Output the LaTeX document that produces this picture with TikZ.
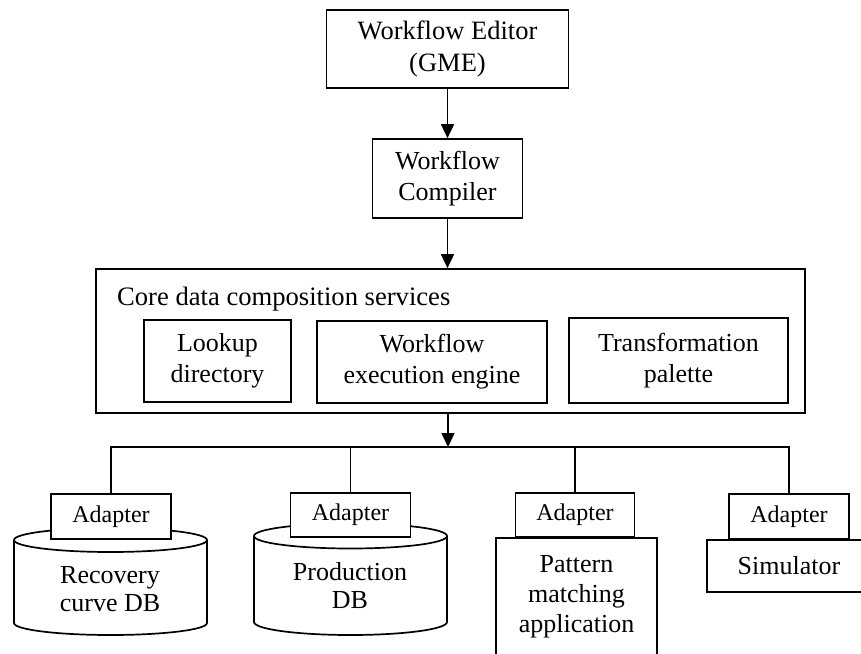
\documentclass[tikz,border=0pt]{standalone}
\usepackage{fontspec}
\setmainfont{Liberation Serif}
\usetikzlibrary{arrows.meta}
\begin{document}
\begin{tikzpicture}[x=1pt,y=-1pt,
  box/.style={draw,line width=1.7pt,fill=white,align=center,inner sep=0pt,
    font=\fontsize{26pt}{31pt}\selectfont},
  adapter/.style={box,minimum width=120pt,minimum height=45pt,
    font=\fontsize{24pt}{27pt}\selectfont},
  lbl/.style={align=center,inner sep=0pt,font=\fontsize{26pt}{28pt}\selectfont},
  conn/.style={line width=1.7pt},
  arr/.style={conn,-{Triangle[length=14pt,width=13pt]}}
]
\useasboundingbox (0,0) rectangle (861,653);
\clip (0,0) rectangle (861,653);

% tool chain on top
\node[box,minimum width=242pt,minimum height=78pt,
      font=\fontsize{26.5pt}{32pt}\selectfont] (editor) at (447.5,49) {Workflow Editor\\(GME)};
\node[box,minimum width=150pt,minimum height=79pt] (compiler) at (447.5,178.5) {Workflow\\Compiler};

% core services container
\node[box,minimum width=709pt,minimum height=144pt] (core) at (450.5,341) {};
\node[lbl,anchor=base west,font=\fontsize{26.6pt}{28pt}\selectfont] (coretitle) at (117,305) {Core data composition services};
\node[box,minimum width=147pt,minimum height=82pt] (lookup) at (217.5,361) {Lookup\\directory};
\node[box,minimum width=230pt,minimum height=82pt] (engine) at (432,362) {Workflow\\execution engine};
\node[box,minimum width=219pt,minimum height=85pt] (palette) at (678.5,360.5) {Transformation\\palette};

\draw[arr] (editor.south) -- (compiler.north);
\draw[arr] (compiler.south) -- (compiler.south |- core.north);

% data sources: two databases
\draw[conn,fill=white] (14,540) -- (14,623)
  arc[start angle=180,end angle=0,x radius=96.5,y radius=12] -- (207,540);
\draw[conn,fill=white] (110.5,540) ellipse[x radius=96.5,y radius=12];
\node[lbl] (recdb) at (110,589) {Recovery\\curve DB};

\draw[conn,fill=white] (254,536) -- (254,622)
  arc[start angle=180,end angle=0,x radius=96.5,y radius=13] -- (447,536);
\draw[conn,fill=white] (350.5,536) ellipse[x radius=96.5,y radius=12.5];
\node[lbl] (proddb) at (350,586) {Production\\DB};

% applications
\node[box,minimum width=161pt,minimum height=118pt,
      font=\fontsize{26pt}{30pt}\selectfont] (pattern) at (576.5,597) {Pattern\\matching\\application};
\node[box,minimum width=164pt,minimum height=52pt] (sim) at (789,566) {Simulator};

% adapters
\node[adapter] (ad1) at (111,516.5) {Adapter};
\node[adapter,minimum height=44pt] (ad2) at (350.5,515) {Adapter};
\node[adapter,minimum width=119pt,minimum height=44pt] (ad3) at (575,515) {Adapter};
\node[adapter] (ad4) at (789,516.5) {Adapter};

% distribution bus
\coordinate (hub) at (448,447);
\draw[arr] (hub |- core.south) -- (hub);
\draw[conn] (ad1.north) -- (ad1.north |- hub) -- (ad4.north |- hub) -- (ad4.north);
\draw[conn] (ad2.north) -- (ad2.north |- hub);
\draw[conn] (ad3.north) -- (ad3.north |- hub);
\end{tikzpicture}
\end{document}
